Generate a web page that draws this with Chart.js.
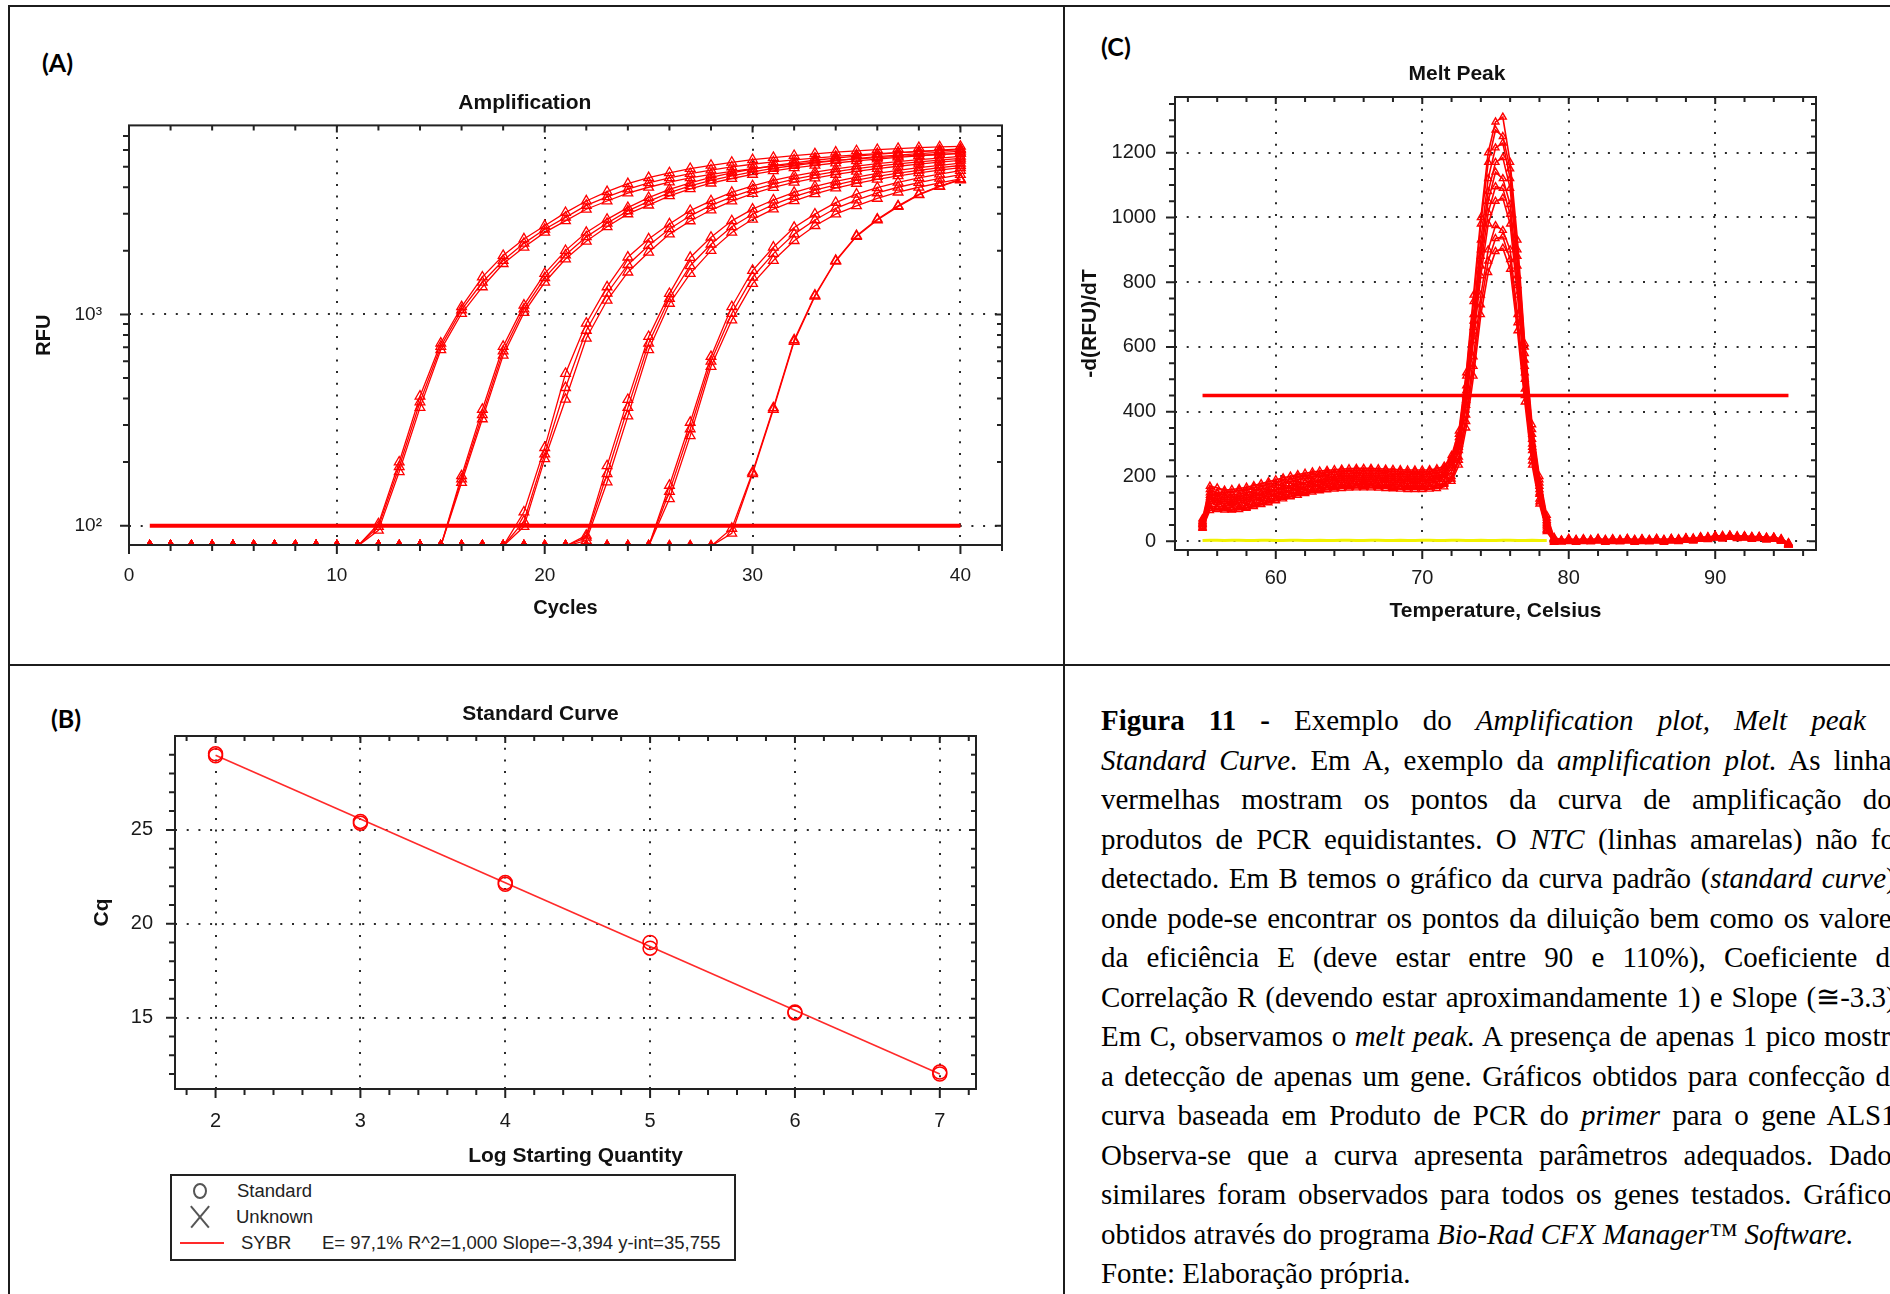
<!DOCTYPE html>
<html lang="pt">
<head>
<meta charset="utf-8">
<title>Figura 11 - Amplification, Melt Peak, Standard Curve</title>
<script src="https://cdn.jsdelivr.net/npm/chart.js@4.4.0/dist/chart.umd.min.js"></script>
<style>
  html, body { margin: 0; padding: 0; background: #fff; }
  body { width: 1890px; height: 1294px; overflow: hidden; position: relative; }
  .rule { position: absolute; background: #1c1c1c; }
  canvas { position: absolute; }
  .tag { position: absolute; font: bold 25px Lato, "Liberation Sans", sans-serif; line-height: 25px; color: #000; }
  #caption { position: absolute; left: 1101px; top: 700px; width: 831px; transform: scaleX(0.965); transform-origin: 0 0;
             font-family: "Liberation Serif", "Times New Roman", serif; font-size: 30px; line-height: 39.5px; color: #000; }
  #caption .ln { text-align: justify; text-align-last: justify; height: 39.5px; }
  #caption .ln.left { text-align: left; text-align-last: left; }
  #stdLegend { position: absolute; left: 170px; top: 1174px; width: 562px; height: 83px; border: 2px solid #222;
               font-family: "Liberation Sans", Arial, sans-serif; font-size: 18.5px; line-height: 18.5px; color: #222; }
  #stdLegend div { position: absolute; white-space: nowrap; }
</style>
</head>
<body>

<div class="rule" style="left:8px; top:5px; width:1882px; height:2px;"></div>
<div class="rule" style="left:8px; top:5px; width:2px; height:1289px;"></div>
<div class="rule" style="left:1063px; top:5px; width:2px; height:1289px;"></div>
<div class="rule" style="left:8px; top:664px; width:1882px; height:2px;"></div>

<div class="tag" style="left:42px; top:50px;">(A)</div>
<div class="tag" style="left:1101px; top:34px;">(C)</div>
<div class="tag" style="left:51px; top:706px;">(B)</div>

<canvas id="ampChart" width="1032" height="535" style="left:8px; top:87px;"></canvas>
<canvas id="meltChart" width="772" height="561" style="left:1070px; top:62px;"></canvas>
<canvas id="stdChart" width="1020" height="467" style="left:30px; top:702px;"></canvas>

<div id="stdLegend">
  <div style="left:21px; top:7px; width:10px; height:12px; border:2px solid #555; border-radius:50%;"></div>
  <div style="left:65px; top:6px;">Standard</div>
  <div style="left:14px; top:40px; width:28px; height:1.6px; background:#555; transform:rotate(50deg);"></div>
  <div style="left:14px; top:40px; width:28px; height:1.6px; background:#555; transform:rotate(-50deg);"></div>
  <div style="left:64px; top:32px;">Unknown</div>
  <div style="left:8px; top:66px; width:44px; height:2px; background:#ff2a2a;"></div>
  <div style="left:69px; top:58px;">SYBR</div>
  <div style="left:150px; top:58px;">E= 97,1% R^2=1,000 Slope=-3,394 y-int=35,755</div>
</div>

<div id="caption">
  <div class="ln"><b>Figura 11 -</b> Exemplo do <i>Amplification plot, Melt peak</i> e</div>
  <div class="ln"><i>Standard Curve</i>. Em A, exemplo da <i>amplification plot.</i> As linhas</div>
  <div class="ln">vermelhas mostram os pontos da curva de amplificação dos</div>
  <div class="ln">produtos de PCR equidistantes. O <i>NTC</i> (linhas amarelas) não foi</div>
  <div class="ln">detectado. Em B temos o gráfico da curva padrão (<i>standard curve</i>),</div>
  <div class="ln">onde pode-se encontrar os pontos da diluição bem como os valores</div>
  <div class="ln">da eficiência E (deve estar entre 90 e 110%), Coeficiente de</div>
  <div class="ln">Correlação R (devendo estar aproximandamente 1) e Slope (≅-3.3).</div>
  <div class="ln">Em C, observamos o <i>melt peak.</i> A presença de apenas 1 pico mostra</div>
  <div class="ln">a detecção de apenas um gene. Gráficos obtidos para confecção da</div>
  <div class="ln">curva baseada em Produto de PCR do <i>primer</i> para o gene ALS1.</div>
  <div class="ln">Observa-se que a curva apresenta parâmetros adequados. Dados</div>
  <div class="ln">similares foram observados para todos os genes testados. Gráficos</div>
  <div class="ln left">obtidos através do programa <i>Bio-Rad CFX Manager™ Software.</i></div>
  <div class="ln left">Fonte: Elaboração própria.</div>
</div>

<script>
// ---- (A) Amplification: RFU per cycle, 6 dilutions x replicates (80 = below the axis, baseline)
const ampCycles = [1,2,3,4,5,6,7,8,9,10,11,12,13,14,15,16,17,18,19,20,21,22,23,24,25,26,27,28,29,30,31,32,33,34,35,36,37,38,39,40];
const ampG1a = [80,80,80,80,80,80,80,80,80,80,80,102,200,410,731,1087,1503,1900,2276,2630,3035,3443,3810,4157,4439,4680,4900,5080,5250,5400,5530,5650,5760,5860,5950,6030,6100,6160,6210,6250];
const ampG1b = [80,80,80,80,80,80,80,80,80,80,80,95,180,362,680,1010,1349,1738,2080,2445,2773,3147,3443,3750,4000,4230,4430,4600,4760,4900,5030,5150,5260,5360,5450,5530,5600,5670,5730,5790];
const ampG1c = [80,80,80,80,80,80,80,80,80,80,80,99,190,385,705,1050,1420,1800,2170,2530,2880,3280,3600,3920,4200,4430,4640,4820,4990,5140,5270,5390,5500,5600,5690,5770,5840,5900,5960,6010];
const ampG2a = [80,80,80,80,80,80,80,80,80,80,80,80,80,80,80,172,355,705,1106,1560,2005,2445,2820,3205,3575,3910,4200,4450,4680,4880,5060,5220,5370,5500,5620,5730,5830,5920,6000,6080];
const ampG2b = [80,80,80,80,80,80,80,80,80,80,80,80,80,80,80,160,320,640,1020,1420,1830,2220,2600,2990,3290,3640,3930,4180,4400,4600,4780,4940,5080,5210,5330,5440,5540,5630,5710,5790];
const ampG2c = [80,80,80,80,80,80,80,80,80,80,80,80,80,80,80,166,335,670,1060,1490,1910,2330,2700,3090,3430,3770,4060,4310,4530,4730,4910,5070,5220,5350,5470,5580,5680,5770,5850,5920];
const ampG3a = [80,80,80,80,80,80,80,80,80,80,80,80,80,80,80,80,80,80,116,234,525,908,1349,1866,2276,2680,3100,3450,3780,4060,4310,4530,4720,4890,5040,5170,5290,5400,5500,5600];
const ampG3b = [80,80,80,80,80,80,80,80,80,80,80,80,80,80,80,80,80,80,99,207,396,771,1167,1585,1970,2400,2770,3120,3440,3730,3990,4220,4420,4600,4760,4900,5030,5150,5260,5360];
const ampG3c = [80,80,80,80,80,80,80,80,80,80,80,80,80,80,80,80,80,80,105,218,450,840,1260,1720,2120,2540,2930,3280,3600,3890,4140,4370,4570,4740,4900,5040,5160,5270,5380,5480];
const ampG4a = [80,80,80,80,80,80,80,80,80,80,80,80,80,80,80,80,80,80,80,80,80,90,192,395,785,1255,1860,2317,2773,3150,3480,3780,4040,4270,4470,4650,4810,4950,5080,5200];
const ampG4b = [80,80,80,80,80,80,80,80,80,80,80,80,80,80,80,80,80,80,80,80,80,85,161,330,680,1127,1560,2005,2445,2820,3150,3450,3720,3960,4170,4360,4530,4680,4820,4950];
const ampG4c = [80,80,80,80,80,80,80,80,80,80,80,80,80,80,80,80,80,80,80,80,80,88,176,362,730,1190,1700,2150,2600,2980,3310,3610,3880,4110,4320,4500,4670,4810,4950,5070];
const ampG5a = [80,80,80,80,80,80,80,80,80,80,80,80,80,80,80,80,80,80,80,80,80,80,80,80,80,155,308,631,1087,1614,2080,2582,2985,3383,3707,3980,4220,4430,4620,4800];
const ampG5b = [80,80,80,80,80,80,80,80,80,80,80,80,80,80,80,80,80,80,80,80,80,80,80,80,80,134,266,567,940,1400,1800,2234,2630,2985,3266,3540,3790,4000,4200,4380];
const ampG5c = [80,80,80,80,80,80,80,80,80,80,80,80,80,80,80,80,80,80,80,80,80,80,80,80,80,145,287,600,1010,1500,1940,2400,2800,3180,3480,3760,4000,4210,4410,4590];
const ampG6a = [80,80,80,80,80,80,80,80,80,80,80,80,80,80,80,80,80,80,80,80,80,80,80,80,80,80,80,80,97,179,361,757,1233,1800,2360,2825,3266,3707,4055,4357];
const ampG6b = [80,80,80,80,80,80,80,80,80,80,80,80,80,80,80,80,80,80,80,80,80,80,80,80,80,80,80,80,92,176,355,745,1220,1785,2340,2800,3240,3680,4030,4330];
const ampThreshold = 100;
const ampThresholdCycles = [1, 40];
const ampXLabels = [0, 10, 20, 30, 40];
const ampYLabelValues = [100, 1000];
const ampYLabelText = ['10\u00b2', '10\u00b3'];

// ---- (C) Melt peak: -d(RFU)/dT per temperature
const meltTemps = [55,55.5,56,56.5,57,57.5,58,58.5,59,59.5,60,60.5,61,61.5,62,62.5,63,63.5,64,64.5,65,65.5,66,66.5,67,67.5,68,68.5,69,69.5,70,70.5,71,71.5,72,72.5,73,73.5,74,74.5,75,75.5,76,76.5,77,77.5,78,78.5,79,79.5,80,80.5,81,81.5,82,82.5,83,83.5,84,84.5,85,85.5,86,86.5,87,87.5,88,88.5,89,89.5,90,90.5,91,91.5,92,92.5,93,93.5,94,94.5,95];
const meltM1 = [70,170,165,158,160,163,167,172,178,184,190,196,201,206,210,214,217,219,221,223,224,225,225,225,224,223,222,221,220,220,220,221,224,232,265,340,520,760,1000,1200,1295,1310,1170,930,610,360,200,80,12,4,5,6,5,6,7,6,5,6,7,6,5,6,7,6,7,8,9,10,12,14,16,18,18,17,16,15,14,13,12,8,-6];
const meltM2 = [62,150,148,142,143,146,150,155,161,167,173,179,185,190,195,199,202,205,207,208,209,210,210,210,209,208,207,206,205,205,205,206,209,218,250,320,480,700,930,1120,1215,1230,1120,880,580,330,180,65,8,2,3,4,3,4,5,4,3,4,5,4,3,4,5,4,5,6,7,8,10,12,14,16,16,15,14,13,12,11,10,6,-8];
const meltM3 = [55,135,133,128,128,131,135,140,146,152,158,164,170,175,180,184,188,191,193,194,195,196,196,196,195,194,193,192,191,191,191,192,195,204,235,300,450,660,880,1050,1140,1120,1040,820,540,300,160,55,5,1,2,3,2,3,4,3,2,3,4,3,2,3,4,3,4,5,6,7,9,11,13,15,15,14,13,12,11,10,9,5,-9];
const meltM4 = [50,122,120,116,116,118,122,127,133,139,145,151,157,162,167,171,175,178,180,182,183,184,184,184,183,182,181,180,179,179,179,180,183,191,215,280,420,620,820,980,1050,1060,980,760,500,280,145,45,3,0,1,2,1,2,3,2,1,2,3,2,1,2,3,2,3,4,5,6,8,10,12,14,14,13,12,11,10,9,8,4,-10];
const meltM5 = [45,108,108,105,105,107,111,116,122,128,134,140,146,151,156,160,164,167,170,172,173,174,174,174,173,172,171,170,169,169,169,170,172,179,200,260,390,570,760,900,975,960,900,700,470,260,130,38,0,-1,0,1,0,1,2,1,0,1,2,1,0,1,2,1,2,3,4,5,7,9,11,13,13,12,11,10,9,8,7,3,-11];
const meltM6 = [40,95,98,96,96,98,102,107,113,119,125,131,137,142,147,152,156,159,161,163,164,165,165,165,164,163,162,161,160,160,160,161,163,168,185,235,350,510,700,830,895,905,840,650,430,235,115,30,-3,-2,-1,0,-1,0,1,0,-1,0,1,0,-1,0,1,0,1,2,3,4,6,8,10,12,12,11,10,9,8,7,6,2,-12];
const meltM7 = [66,160,150,152,150,158,158,166,168,177,180,189,190,198,200,206,207,213,212,217,215,219,216,220,216,218,214,216,213,215,213,216,218,226,258,330,510,740,980,1170,1270,1250,1150,900,600,345,190,72,10,3,9,2,8,3,9,2,8,3,9,2,8,3,9,2,9,4,11,6,14,10,18,12,19,13,17,11,15,9,13,5,-4];
const meltM8 = [58,142,138,136,134,139,141,148,150,158,161,169,172,180,182,189,190,196,196,201,199,204,201,205,201,203,199,201,198,200,198,201,203,211,242,310,465,680,900,1080,1170,1185,1090,850,560,315,170,60,6,1,7,0,6,1,7,0,6,1,7,0,6,1,7,0,7,2,9,4,12,8,16,10,17,11,15,9,13,7,11,3,-7];
const meltM9 = [52,128,124,122,120,125,127,134,136,144,147,155,158,166,168,175,177,183,183,188,186,191,188,192,188,190,186,188,185,187,185,188,190,198,225,290,435,640,850,1015,1095,1090,1010,790,520,290,150,50,4,0,6,-1,5,0,6,-1,5,0,6,-1,5,0,6,-1,6,1,8,3,11,7,15,9,16,10,14,8,12,6,10,2,-8];
const meltM10 = [42,102,100,100,98,103,105,112,115,124,127,136,139,147,150,157,159,165,165,170,168,172,169,173,169,171,167,169,166,168,166,169,170,176,192,250,370,540,730,865,935,940,870,675,450,248,122,34,-2,-2,4,-3,3,-2,4,-3,3,-2,4,-3,3,-2,4,-3,4,-1,6,1,9,5,13,7,14,8,12,6,10,4,8,0,-11];
const meltNTC = [2,3,3,2,3,3,2,2,3,3,2,2,3,3,2,2,3,2,2,3,3,2,2,3,3,2,2,3,2,2,3,3,2,2,3,3,2,2,3,2,2,3,3,2,2,3,2,2];
const meltThreshold = 450;
const meltThresholdTemps = [55, 95];
const meltXLabels = [60, 70, 80, 90];
const meltYLabels = [0, 200, 400, 600, 800, 1000, 1200];

// ---- (B) Standard curve
const stdLogQty = [2, 2, 3, 3, 4, 4, 5, 5, 6, 6, 7, 7];
const stdCq = [29.05, 28.95, 25.45, 25.35, 22.2, 22.1, 19.0, 18.7, 15.3, 15.25, 12.1, 12.0];
const fitLogQty = [2, 7];
const fitCq = [28.97, 12.0];
const stdXLabels = [2, 3, 4, 5, 6, 7];
const stdYLabels = [15, 20, 25];

const RED = '#ff0000';
const AMP_Y_MIN = 81;

Chart.defaults.font.family = '"Liberation Sans", Arial, sans-serif';
Chart.defaults.color = '#1a1a1a';
Chart.defaults.animation = false;

// tick positions (major + minor), rounded so labels can be matched
function tickRange(from, to, step) {
    var out = [];
    for (var v = from; v <= to + 1e-9; v += step) out.push(Math.round(v * 100) / 100);
    return out;
}

// frame around the plot + small tick marks (outside on bottom/left, inside on top/right)
const frameTicks = {
    id: 'frameTicks',
    afterDraw(chart, args, opts) {
        const ctx = chart.ctx, a = chart.chartArea;
        const xs = chart.scales.x, ys = chart.scales.y;
        ctx.save();
        ctx.strokeStyle = '#222';
        ctx.lineWidth = 2;
        ctx.strokeRect(a.left, a.top, a.right - a.left, a.bottom - a.top);
        ctx.beginPath();
        xs.ticks.forEach(function (t) {
            const p = xs.getPixelForValue(t.value);
            const big = t.label !== '';
            ctx.moveTo(p, a.bottom); ctx.lineTo(p, a.bottom + (big ? opts.major : opts.minor));
            ctx.moveTo(p, a.top); ctx.lineTo(p, a.top + (big ? opts.major - 2 : opts.minor - 1));
        });
        ys.ticks.forEach(function (t) {
            const p = ys.getPixelForValue(t.value);
            const big = t.label !== '';
            ctx.moveTo(a.left, p); ctx.lineTo(a.left - (big ? opts.major : opts.minor), p);
            ctx.moveTo(a.right, p); ctx.lineTo(a.right - (big ? opts.major - 2 : opts.minor - 1), p);
        });
        ctx.stroke();
        ctx.restore();
    }
};

function makeScale(o) {
    return {
        type: o.type || 'linear',
        min: o.min,
        max: o.max,
        afterBuildTicks: function (s) { s.ticks = o.ticks.map(function (v) { return { value: v }; }); },
        afterFit: function (s) {
            if (o.width) s.width = o.width;
            if (o.height) s.height = o.height;
        },
        ticks: {
            autoSkip: false, maxRotation: 0, padding: o.pad,
            font: { size: o.tickSize }, color: '#1a1a1a',
            callback: o.label
        },
        grid: {
            drawTicks: false, lineWidth: 2,
            color: function (c) { return c.tick && c.tick.label !== '' ? '#2a2a2a' : 'rgba(0,0,0,0)'; }
        },
        border: { display: false, dash: [2, 9.7] },
        title: {
            display: true, text: o.title, color: '#111',
            font: { size: o.titleSize, weight: 'bold' }, padding: o.titlePad
        }
    };
}

function baseOptions(title, padL, padR, titleGap) {
    return {
        responsive: false,
        animation: false,
        layout: { padding: { left: padL, right: padR, top: 0, bottom: 0 } },
        plugins: {
            legend: { display: false },
            tooltip: { enabled: false },
            title: {
                display: true, text: title, color: '#111',
                font: { size: 21, weight: 'bold' }, padding: { top: 0, bottom: titleGap }
            },
            frameTicks: { major: 9, minor: 6 }
        }
    };
}

// ---------- (A) Amplification ----------
function ampDataset(values) {
    return {
        data: ampCycles.map(function (c, i) { return { x: c, y: values[i] }; }),
        borderColor: RED, borderWidth: 1.3, tension: 0,
        pointStyle: 'triangle', pointRadius: 5.6, pointBorderWidth: 1.3, pointBorderColor: RED,
        pointBackgroundColor: function (c) { return c.raw && c.raw.y < AMP_Y_MIN ? RED : 'rgba(0,0,0,0)'; },
        clip: 0
    };
}

const ampCurves = [ampG1a, ampG1b, ampG1c, ampG2a, ampG2b, ampG2c, ampG3a, ampG3b, ampG3c,
                   ampG4a, ampG4b, ampG4c, ampG5a, ampG5b, ampG5c, ampG6a, ampG6b];

const ampYTicks = tickRange(100, 900, 100).concat(tickRange(1000, 7000, 1000));
const ampOpts = baseOptions('Amplification', 39.6, 38, 10);
ampOpts.scales = {
    x: makeScale({ min: 0, max: 42, ticks: tickRange(0, 42, 2), pad: 19, tickSize: 19,
                   title: 'Cycles', titleSize: 20, titlePad: { top: 4, bottom: 1.6 }, height: 77,
                   label: function (v) { return ampXLabels.includes(v) ? String(v) : ''; } }),
    y: makeScale({ type: 'logarithmic', min: AMP_Y_MIN, max: 7850, ticks: ampYTicks, pad: 27, tickSize: 19,
                   title: 'RFU', titleSize: 20, titlePad: { top: -14.8, bottom: 4 }, width: 81.4,
                   label: function (v) { const k = ampYLabelValues.indexOf(v); return k >= 0 ? ampYLabelText[k] : ''; } })
};

new Chart(document.getElementById('ampChart'), {
    type: 'line',
    data: {
        datasets: [{
            data: ampThresholdCycles.map(function (c) { return { x: c, y: ampThreshold }; }),
            borderColor: RED, borderWidth: 4, pointRadius: 0
        }].concat(ampCurves.map(ampDataset))
    },
    options: ampOpts,
    plugins: [frameTicks]
});

// ---------- (C) Melt Peak ----------
function meltDataset(values) {
    return {
        data: meltTemps.map(function (t, i) { return { x: t, y: values[i] }; }),
        borderColor: RED, borderWidth: 1.6, tension: 0,
        pointStyle: 'triangle', pointRadius: 4, pointBorderWidth: 1.4,
        pointBorderColor: RED, pointBackgroundColor: 'rgba(0,0,0,0)'
    };
}

const meltCurves = [meltM1, meltM7, meltM2, meltM8, meltM3, meltM9, meltM4, meltM5, meltM10, meltM6];

const meltOpts = baseOptions('Melt Peak', 28, 26, 9.8);
meltOpts.scales = {
    x: makeScale({ min: 53.12, max: 96.88, ticks: tickRange(54, 96, 2), pad: 16, tickSize: 20,
                   title: 'Temperature, Celsius', titleSize: 21, titlePad: { top: 4, bottom: -0.8 }, height: 73,
                   label: function (v) { return meltXLabels.includes(v) ? String(v) : ''; } }),
    y: makeScale({ min: -27, max: 1372, ticks: tickRange(0, 1350, 50), pad: 19, tickSize: 20,
                   title: '-d(RFU)/dT', titleSize: 21, titlePad: { top: -20, bottom: 4 }, width: 77,
                   label: function (v) { return meltYLabels.includes(v) ? String(v) : ''; } })
};

new Chart(document.getElementById('meltChart'), {
    type: 'line',
    data: {
        datasets: [{
            data: meltThresholdTemps.map(function (t) { return { x: t, y: meltThreshold }; }),
            borderColor: RED, borderWidth: 3.5, pointRadius: 0
        }].concat(meltCurves.map(meltDataset)).concat([{
            data: meltNTC.map(function (v, i) { return { x: meltTemps[i], y: v }; }),
            borderColor: '#f2f200', borderWidth: 3, pointRadius: 0
        }])
    },
    options: meltOpts,
    plugins: [frameTicks]
});

// ---------- (B) Standard Curve ----------
const stdOpts = baseOptions('Standard Curve', 74.8, 74, 8.8);
stdOpts.scales = {
    x: makeScale({ min: 1.72, max: 7.25, ticks: tickRange(1.8, 7.2, 0.2), pad: 20, tickSize: 20,
                   title: 'Log Starting Quantity', titleSize: 21, titlePad: { top: 4, bottom: 0.4 }, height: 80,
                   label: function (v) { return stdXLabels.includes(v) ? String(v) : ''; } }),
    y: makeScale({ min: 11.2, max: 30, ticks: tickRange(12, 29, 1), pad: 22, tickSize: 20,
                   title: 'Cq', titleSize: 21, titlePad: { top: -14.8, bottom: 4 }, width: 70.2,
                   label: function (v) { return stdYLabels.includes(v) ? String(v) : ''; } })
};

new Chart(document.getElementById('stdChart'), {
    type: 'line',
    data: {
        datasets: [{
            data: stdLogQty.map(function (q, i) { return { x: q, y: stdCq[i] }; }),
            showLine: false, pointStyle: 'circle', pointRadius: 7, pointBorderWidth: 1.5,
            pointBorderColor: RED, pointBackgroundColor: 'rgba(0,0,0,0)'
        }, {
            data: fitLogQty.map(function (q, i) { return { x: q, y: fitCq[i] }; }),
            borderColor: '#ff2a2a', borderWidth: 1.6, pointRadius: 0
        }]
    },
    options: stdOpts,
    plugins: [frameTicks]
});
</script>
</body>
</html>
